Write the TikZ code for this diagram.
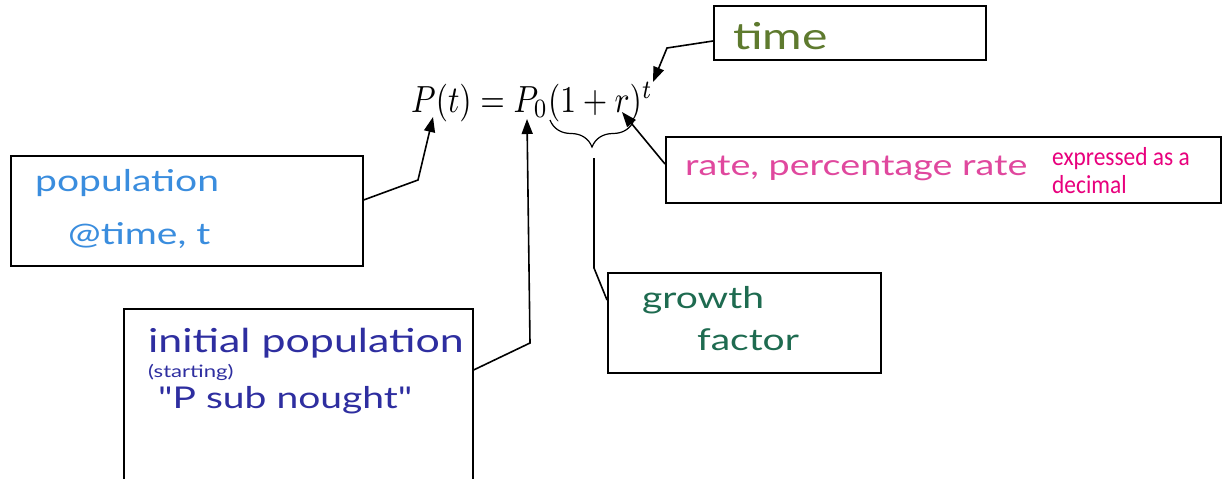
\documentclass[tikz,border=0pt]{standalone}
\usepackage{fontspec}
\usetikzlibrary{arrows.meta, decorations.pathreplacing}
\newfontfamily\hand[FakeStretch=1.3]{Lato}
\newfontfamily\calib[FakeStretch=0.9]{Carlito}
\definecolor{timegreen}{HTML}{5E7A2E}
\definecolor{popblue}{HTML}{3A8DDE}
\definecolor{initblue}{HTML}{2E2EA0}
\definecolor{ratepink}{HTML}{E0489E}
\definecolor{decpink}{HTML}{E8007D}
\definecolor{growgreen}{HTML}{1E6B50}

\begin{document}
\begin{tikzpicture}[x=1pt,y=-1pt,
  box/.style={draw=black, line width=1.6pt, anchor=north west, inner sep=0pt},
  link/.style={line width=1.6pt},
  tip/.style={-{Triangle[length=15pt,width=11pt]}},
  hw/.style={anchor=west, inner sep=0pt, font=\hand\fontsize{30}{32}\selectfont}]
\clip (0,0) rectangle (1229,479);
\fill[white] (0,0) rectangle (1229,479);
% boxes
\node[box, minimum width=272pt, minimum height=54pt] (timebox) at (713,5) {};
\node[box, minimum width=352pt, minimum height=110pt] (popbox) at (10,155) {};
\node[box, minimum width=349pt, minimum height=190pt] (initbox) at (123,308) {};
\node[box, minimum width=555pt, minimum height=66pt] (ratebox) at (665,136) {};
\node[box, minimum width=273pt, minimum height=100pt] (growthbox) at (607,272) {};
% formula
\node[anchor=base west, inner sep=0pt] (eq) at (411,112) {\scalebox{3.15}[3.78]{$P(t) = P_0(1+r)^t$}};
\coordinate (tipPt) at (433,117);
\coordinate (tipPnull) at (527,119);
\coordinate (tipT) at (653,82);
\coordinate (tipR) at (622,112);
\coordinate (bracetip) at (594,158);
\draw[line width=1.2pt, decorate, decoration={brace, mirror, amplitude=27pt}] (550,120) -- (634,120);
% connectors
\draw[link,tip] ([yshift=-45pt]popbox.north east) -- (418,180) -- (tipPt);
\draw[link,tip] ([yshift=-62pt]initbox.north east) -- (530,343) -- (tipPnull);
\draw[link,tip] ([yshift=-36pt]timebox.north west) -- (667,48) -- (tipT);
\draw[link,tip] ([yshift=-28pt]ratebox.north west) -- (tipR);
\draw[link] (bracetip) -- (594,268) -- ([yshift=-28pt]growthbox.north west);
% labels
\node[hw, text=timegreen, font=\hand\fontsize{37}{40}\selectfont] (timetxt) at (733,36) {time};
\node[hw, text=popblue] (poptxt1) at (35,183) {population};
\node[hw, text=popblue] (poptxt2) at (68,236) {@time, t};
\node[hw, text=initblue, font=\hand\fontsize{33}{35}\selectfont] (inittxt1) at (148,343) {initial population};
\node[hw, text=initblue, font=\hand\fontsize{17}{18}\selectfont] (inittxt2) at (148,372) {(starting)};
\node[hw, text=initblue] (inittxt3) at (158,400) {"P sub nought"};
\node[hw, text=ratepink, font=\hand\fontsize{29}{31}\selectfont] (ratetxt) at (685,168) {rate, percentage rate};
\node[anchor=base west, inner sep=0pt, font=\calib\fontsize{26}{28}\selectfont, text=decpink] (dectxt1) at (1052,165) {expressed as a};
\node[anchor=base west, inner sep=0pt, font=\calib\fontsize{26}{28}\selectfont, text=decpink] (dectxt2) at (1052,193) {decimal};
\node[hw, text=growgreen] (growtxt1) at (642,300) {growth};
\node[hw, text=growgreen] (growtxt2) at (697,340) {factor};
\end{tikzpicture}
\end{document}
